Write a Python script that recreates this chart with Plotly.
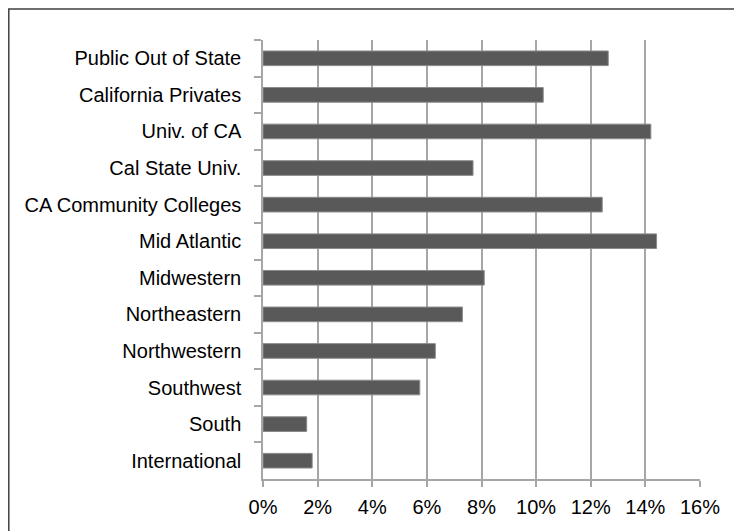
import plotly.graph_objects as go

categories = [
    "Public Out of State", "California Privates", "Univ. of CA", "Cal State Univ.",
    "CA Community Colleges", "Mid Atlantic", "Midwestern", "Northeastern",
    "Northwestern", "Southwest", "South", "International",
]
values = [12.64, 10.26, 14.2, 7.69, 12.42, 14.41, 8.1, 7.3, 6.31, 5.74, 1.6, 1.8]
x_ticks = [0, 2, 4, 6, 8, 10, 12, 14, 16]
x_tick_labels = [f"{v}%" for v in x_ticks]

FONT = "Liberation Sans, Arial, sans-serif"

fig = go.Figure(
    go.Bar(
        x=values, y=categories, orientation="h", width=0.4,
        marker=dict(color="#595959", line=dict(color="#8a8a8a", width=1)),
    )
)

# page body has an 8px default margin, so the figure is offset by 8px
W, H = 734, 523
L, R, T, B = 255, 42, 32, 52
pw, ph = W - L - R, H - T - B

def px_x(x):
    return (x - L) / pw

def px_y(y):
    return (H - B - y) / ph

fig.update_layout(
    width=W, height=H,
    margin=dict(l=L, r=R, t=T, b=B, autoexpand=False),
    paper_bgcolor="white", plot_bgcolor="white",
    showlegend=False,
    font=dict(family=FONT, size=20, color="#000000"),
    xaxis=dict(
        range=[0, 16], tickvals=x_ticks, ticktext=x_tick_labels,
        showgrid=True, gridcolor="#a6a6a6", gridwidth=1.5,
        showline=True, linecolor="#a6a6a6", linewidth=1.5,
        ticks="outside", ticklen=6, tickcolor="#a6a6a6", tickwidth=1.5,
        zeroline=False, tickfont=dict(size=20, family=FONT),
        ticklabelstandoff=3, automargin=False,
    ),
    yaxis=dict(
        categoryorder="array", categoryarray=categories,
        range=[len(categories) - 0.5, -0.5],
        showgrid=False, showline=True, linecolor="#a6a6a6", linewidth=1.5,
        ticks="outside", tickson="boundaries", ticklen=7,
        tickcolor="#a6a6a6", tickwidth=1.5,
        tickfont=dict(size=20, family=FONT),
        ticklabelstandoff=16, automargin=False,
    ),
    shapes=[dict(
        type="rect", xref="paper", yref="paper",
        x0=px_x(0.8), x1=px_x(760), y0=px_y(560), y1=px_y(1),
        line=dict(color="#404040", width=1.5), fillcolor="rgba(0,0,0,0)",
        layer="above",
    )],
)

fig.write_html("out.html")
